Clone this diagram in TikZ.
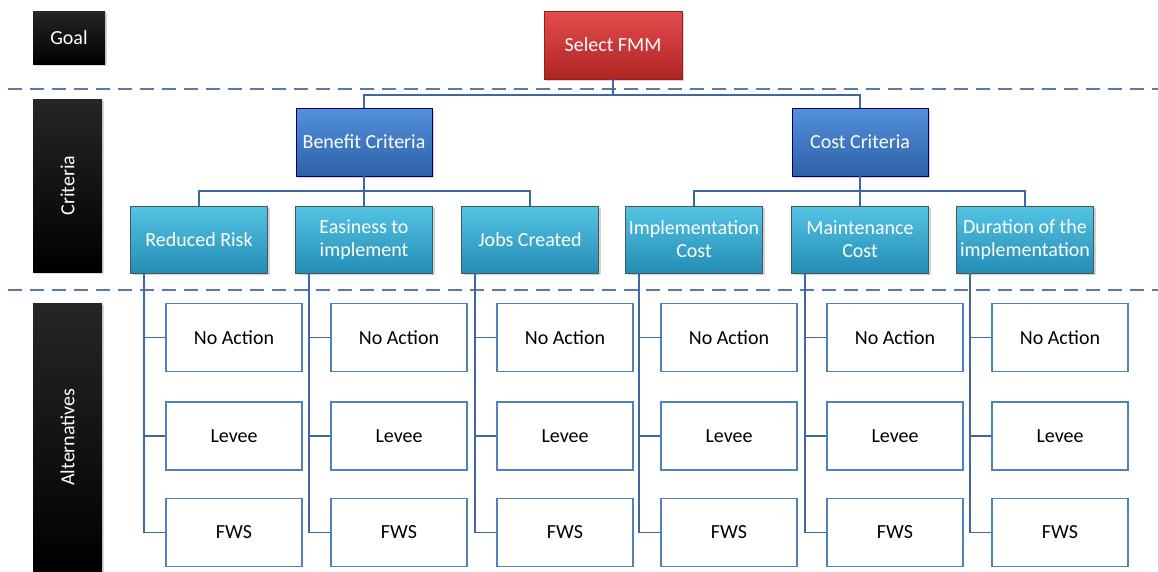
\documentclass[tikz,border=0pt]{standalone}
\usepackage{fontspec}
\setmainfont{Carlito}
\usepackage{tikz}
\usetikzlibrary{shadows}
\definecolor{lineblue}{HTML}{4068A0}
\definecolor{boxblue}{HTML}{4F81BD}
\definecolor{dashblue}{HTML}{5C78AC}
\begin{document}
\begin{tikzpicture}[x=1pt,y=-1pt,
    every node/.style={font=\fontsize{20}{23}\selectfont,align=center,inner sep=1pt},
    level/.style={fill=black,top color=black!85,bottom color=black,text=white,
        drop shadow={opacity=0.3,shadow xshift=2pt,shadow yshift=-2pt}},
    goalbox/.style={draw={rgb,255:red,150;green,30;blue,30},line width=0.6pt,top color={rgb,255:red,228;green,76;blue,76},bottom color={rgb,255:red,176;green,36;blue,36},text=white,
        minimum width=138pt,minimum height=68pt,
        drop shadow={opacity=0.35,shadow xshift=2pt,shadow yshift=-2pt}},
    critbox/.style={draw=blue!40!black,line width=0.6pt,top color={rgb,255:red,84;green,144;blue,218},bottom color={rgb,255:red,44;green,98;blue,170},text=white,
        minimum width=136pt,minimum height=68pt,
        drop shadow={opacity=0.35,shadow xshift=2pt,shadow yshift=-2pt}},
    subbox/.style={draw=cyan!30!black,line width=0.6pt,top color={rgb,255:red,84;green,196;blue,228},bottom color={rgb,255:red,36;green,140;blue,180},text=white,
        minimum width=137pt,minimum height=67pt,
        drop shadow={opacity=0.35,shadow xshift=2pt,shadow yshift=-2pt}},
    altbox/.style={draw=boxblue,line width=1.8pt,fill=white,text=black,minimum width=136pt,minimum height=68pt},
    link/.style={draw=lineblue,line width=1.8pt},
    sep/.style={draw=dashblue,line width=2pt,dash pattern=on 14pt off 8pt}]
\useasboundingbox (0,0) rectangle (1158,571);
\node [level,minimum width=72pt,minimum height=53pt] (goal) at (69,37.5) {Goal};
\node [level,minimum width=69pt,minimum height=173pt] (crit) at (67.5,185.5) {};
\node [rotate=90,text=white] (critlabel) at (crit.center) {Criteria};
\node [level,minimum width=69pt,minimum height=268pt] (alt) at (67.5,437) {};
\node [rotate=90,text=white] (altlabel) at (alt.center) {Alternatives};
\coordinate (sepa) at (8,89);
\coordinate (sepb) at (1158,89);
\coordinate (sepc) at (8,290);
\coordinate (sepd) at (1158,290);
\draw [sep] (sepa) -- (sepb);
\draw [sep] (sepc) -- (sepd);
\node [goalbox] (fmm) at (613,45) {Select FMM};
\node [critbox] (ben) at (364,142) {Benefit Criteria};
\node [critbox] (cost) at (860,142) {Cost Criteria};
\node [subbox] (rr) at (199,239.5) {Reduced Risk};
\node [subbox] (ease) at (364,239.5) {Easiness to\\implement};
\node [subbox] (jobs) at (530,239.5) {Jobs Created};
\node [subbox] (impl) at (694,239.5) {Implementation\\Cost};
\node [subbox] (maint) at (860,239.5) {Maintenance\\Cost};
\node [subbox] (dur) at (1025,239.5) {Duration of the\\implementation};
\draw [link] (fmm.south) -- ++(0,16) -| (ben.north);
\draw [link] (fmm.south) -- ++(0,16) -| (cost.north);
\draw [link] (ben.south) -- ++(0,15) -| (rr.north);
\draw [link] (ben.south) -- ++(0,15) -| (jobs.north);
\draw [link] (ben.south) -- (ease.north);
\draw [link] (cost.south) -- ++(0,15) -| (impl.north);
\draw [link] (cost.south) -- ++(0,15) -| (dur.north);
\draw [link] (cost.south) -- (maint.north);
\node [altbox] (rra) at (234,337.5) {No Action};
\node [altbox] (rrb) at (234,436) {Levee};
\node [altbox] (rrc) at (234,532.5) {FWS};
\node [altbox] (easea) at (399,337.5) {No Action};
\node [altbox] (easeb) at (399,436) {Levee};
\node [altbox] (easec) at (399,532.5) {FWS};
\node [altbox] (jobsa) at (565,337.5) {No Action};
\node [altbox] (jobsb) at (565,436) {Levee};
\node [altbox] (jobsc) at (565,532.5) {FWS};
\node [altbox] (impla) at (729,337.5) {No Action};
\node [altbox] (implb) at (729,436) {Levee};
\node [altbox] (implc) at (729,532.5) {FWS};
\node [altbox] (mainta) at (895,337.5) {No Action};
\node [altbox] (maintb) at (895,436) {Levee};
\node [altbox] (maintc) at (895,532.5) {FWS};
\node [altbox] (dura) at (1060,337.5) {No Action};
\node [altbox] (durb) at (1060,436) {Levee};
\node [altbox] (durc) at (1060,532.5) {FWS};
\draw [link] ([xshift=14pt]rr.south west) |- (rra.west) ([xshift=14pt]rr.south west) |- (rrb.west) ([xshift=14pt]rr.south west) |- (rrc.west);
\draw [link] ([xshift=14pt]ease.south west) |- (easea.west) ([xshift=14pt]ease.south west) |- (easeb.west) ([xshift=14pt]ease.south west) |- (easec.west);
\draw [link] ([xshift=14pt]jobs.south west) |- (jobsa.west) ([xshift=14pt]jobs.south west) |- (jobsb.west) ([xshift=14pt]jobs.south west) |- (jobsc.west);
\draw [link] ([xshift=14pt]impl.south west) |- (impla.west) ([xshift=14pt]impl.south west) |- (implb.west) ([xshift=14pt]impl.south west) |- (implc.west);
\draw [link] ([xshift=14pt]maint.south west) |- (mainta.west) ([xshift=14pt]maint.south west) |- (maintb.west) ([xshift=14pt]maint.south west) |- (maintc.west);
\draw [link] ([xshift=14pt]dur.south west) |- (dura.west) ([xshift=14pt]dur.south west) |- (durb.west) ([xshift=14pt]dur.south west) |- (durc.west);
\end{tikzpicture}
\end{document}
